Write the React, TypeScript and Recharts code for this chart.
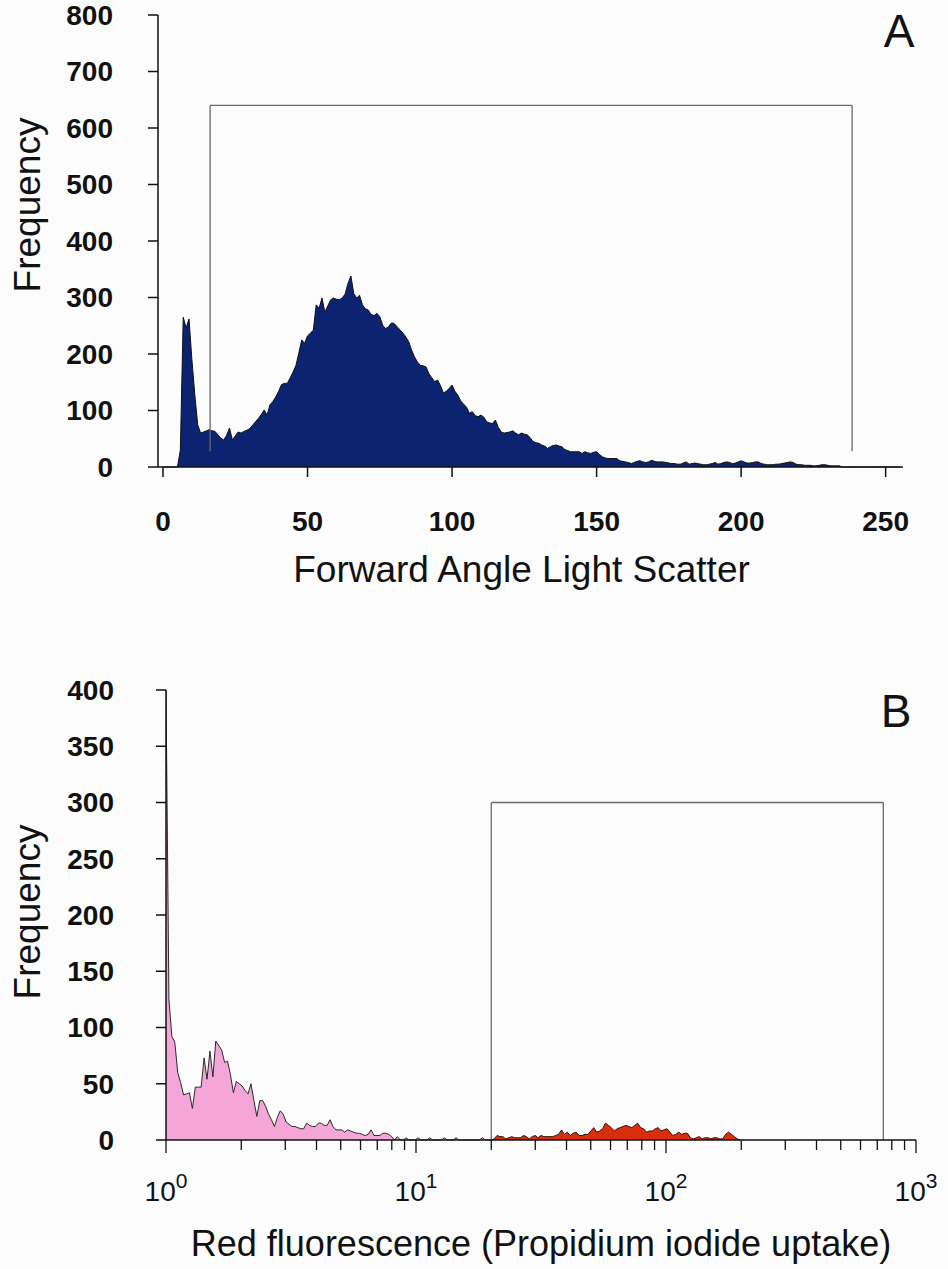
import React from "react";
import { ComposedChart, Area, XAxis, YAxis, ReferenceLine, Label } from "recharts";

const FONT = '"Liberation Sans", Arial, Helvetica, sans-serif';
const INK = "#111";
const GATE = "#6a6a6a";

/* ── Panel A: forward angle light scatter, counts per linear channel 0-255 ── */

const FSC_COUNTS = [
  0, 0, 0, 0, 0, 0, 30, 265, 246, 262, 190, 128, 75, 60, 62, 64,
  66, 64, 63, 57, 51, 48, 56, 69, 48, 55, 62, 60, 63, 65, 68, 74,
  80, 86, 93, 101, 92, 110, 116, 124, 134, 146, 148, 148, 158, 168, 180, 202,
  225, 219, 232, 237, 242, 287, 281, 299, 274, 285, 296, 299, 297, 296, 299, 306,
  325, 338, 307, 299, 304, 287, 280, 278, 270, 268, 272, 266, 251, 245, 248, 255,
  254, 248, 243, 237, 230, 222, 207, 195, 186, 180, 179, 177, 165, 158, 151, 154,
  144, 131, 134, 139, 145, 134, 127, 117, 111, 106, 95, 98, 91, 89, 92, 88,
  80, 78, 77, 83, 70, 62, 60, 61, 62, 64, 60, 57, 60, 58, 57, 52,
  45, 43, 42, 39, 37, 33, 36, 38, 39, 37, 36, 31, 29, 27, 27, 27,
  27, 24, 27, 25, 24, 26, 27, 22, 18, 16, 15, 15, 15, 15, 11, 10,
  9, 8, 6, 8, 10, 11, 9, 8, 9, 12, 10, 9, 9, 9, 8, 7,
  6, 6, 5, 5, 7, 9, 5, 6, 7, 6, 5, 4, 4, 5, 6, 8,
  5, 6, 8, 9, 8, 6, 7, 9, 11, 9, 7, 7, 8, 9, 9, 6,
  5, 4, 4, 4, 5, 5, 6, 7, 8, 9, 8, 5, 4, 4, 3, 3,
  3, 2, 2, 3, 4, 4, 3, 2, 2, 2, 2, 0, 0, 0, 0, 0,
  0, 0, 0, 0, 0, 0, 0, 0, 0, 0, 0, 0, 0, 0, 0, 0,
];
const FSC_TICKS = [0, 50, 100, 150, 200, 250];
const FSC_FREQ_TICKS = [0, 100, 200, 300, 400, 500, 600, 700, 800];
const FSC_GATE = { from: 16.3, to: 238.4, top: 640, foot: 28 };

/* ── Panel B: propidium iodide, 256 log channels over three decades ── */

const PI_CHANNELS_PER_DECADE = 256 / 3;
// channels 0-111, unstained (intact) cells
const PI_NEGATIVE = [
  400, 125, 92, 87, 60, 51, 40, 41, 42, 28, 47, 47, 47, 73, 54, 79,
  56, 88, 84, 80, 69, 70, 58, 42, 52, 50, 48, 44, 41, 50, 35, 21,
  35, 35, 30, 23, 18, 12, 20, 26, 23, 16, 14, 12, 12, 11, 10, 10,
  15, 13, 12, 12, 15, 15, 13, 13, 18, 12, 9, 9, 9, 7, 9, 8,
  7, 6, 6, 5, 4, 5, 9, 4, 4, 4, 6, 6, 5, 3, 0, 3,
  0, 0, 2, 0, 0, 0, 2, 0, 0, 0, 2, 0, 0, 0, 0, 2,
  0, 0, 0, 2, 0, 0, 0, 0, 0, 0, 0, 0, 2, 0, 0, 0,
];
// channels 111-196, PI-positive cells
const PI_POSITIVE_START = 111;
const PI_POSITIVE = [
  0, 1, 4, 3, 3, 1, 2, 3, 2, 2, 2, 4, 3, 1, 3, 4,
  2, 4, 3, 3, 3, 3, 4, 5, 9, 5, 7, 4, 6, 7, 4, 4,
  5, 5, 8, 11, 7, 8, 10, 15, 13, 11, 8, 10, 11, 12, 13, 12,
  11, 13, 15, 11, 10, 7, 8, 8, 10, 11, 8, 9, 10, 7, 4, 5,
  7, 5, 6, 6, 2, 1, 2, 3, 1, 2, 2, 1, 2, 2, 1, 1,
  5, 7, 5, 3, 1, 0,
];
const PI_DECADES = [1, 10, 100, 1000];
const PI_TICKS = [
  1, 2, 3, 4, 5, 6, 7, 8, 9,
  10, 20, 30, 40, 50, 60, 70, 80, 90,
  100, 200, 300, 400, 500, 600, 700, 800, 900,
  1000,
];
const PI_FREQ_TICKS = [0, 50, 100, 150, 200, 250, 300, 350, 400];
const PI_GATE = { from: 20, to: 740, top: 300 };

/* ── Tables ── */

const fscData = FSC_COUNTS.map((count, ch) => ({ ch, count }));

const piData = Array.from({ length: 256 }, (_, ch) => {
  const posIdx = ch - PI_POSITIVE_START;
  return {
    x: 10 ** (ch / PI_CHANNELS_PER_DECADE),
    neg: ch < PI_NEGATIVE.length ? PI_NEGATIVE[ch] : null,
    pos: posIdx >= 0 && posIdx < PI_POSITIVE.length ? PI_POSITIVE[posIdx] : null,
  };
});

/* ── Shared styles ── */

const tickStyle = { fontSize: 28, fontWeight: 700, fill: INK, fontFamily: FONT };
const axisStroke = { stroke: INK, strokeWidth: 1.5 };

function frequencyTitle(cy: number) {
  return () => (
    <text
      x={40}
      y={cy}
      transform={`rotate(-90 40 ${cy})`}
      textAnchor="middle"
      fontSize={37}
      fontFamily={FONT}
      fill={INK}
    >
      Frequency
    </text>
  );
}

// log axis tick: longer mark + 10^n label on decades
function LogTick(props: any) {
  const { x, y, payload } = props;
  const exp = PI_DECADES.indexOf(payload.value);
  return (
    <g>
      <line x1={x} y1={y} x2={x} y2={y + (exp >= 0 ? 13 : 10)} stroke={INK} strokeWidth={1.3} />
      {exp >= 0 && (
        <text x={x} y={y + 61} textAnchor="middle" fontSize={28} fontFamily={FONT} fill={INK}>
          10
          <tspan dy={-13} fontSize={21}>
            {exp}
          </tspan>
        </text>
      )}
    </g>
  );
}

function PanelLetter({ letter, x, y }: { letter: string; x: number; y: number }) {
  return (
    <svg width={60} height={60} style={{ position: "absolute", left: x - 30, top: y - 50 }}>
      <text x={30} y={50} textAnchor="middle" fontSize={46} fontFamily={FONT} fill={INK}>
        {letter}
      </text>
    </svg>
  );
}

/* ── Panel A ── */

function ScatterPanel() {
  const g = FSC_GATE;
  return (
    <ComposedChart width={948} height={620} data={fscData} margin={{ top: 15, right: 45, bottom: 38, left: 98 }}>
      <XAxis
        type="number"
        dataKey="ch"
        domain={[0, 256]}
        ticks={FSC_TICKS}
        interval={0}
        padding={{ left: 5, right: 0 }}
        height={115}
        tickSize={10}
        tickMargin={34}
        tick={tickStyle}
        axisLine={axisStroke}
        tickLine={axisStroke}
      >
        <Label
          value="Forward Angle Light Scatter"
          position="insideBottom"
          offset={0}
          dx={-9}
          fontSize={37}
          fontFamily={FONT}
          fill={INK}
        />
      </XAxis>
      <YAxis
        type="number"
        domain={[0, 800]}
        ticks={FSC_FREQ_TICKS}
        interval={0}
        width={60}
        tickSize={10}
        tickMargin={35}
        tick={tickStyle}
        axisLine={axisStroke}
        tickLine={axisStroke}
      >
        <Label content={frequencyTitle(205)} />
      </YAxis>
      <Area
        type="linear"
        dataKey="count"
        fill="#0b2370"
        fillOpacity={1}
        stroke={INK}
        strokeWidth={1}
        isAnimationActive={false}
      />
      <ReferenceLine segment={[{ x: g.from, y: g.foot }, { x: g.from, y: g.top }]} stroke={GATE} strokeWidth={1.3} />
      <ReferenceLine segment={[{ x: g.from, y: g.top }, { x: g.to, y: g.top }]} stroke={GATE} strokeWidth={1.3} />
      <ReferenceLine segment={[{ x: g.to, y: g.top }, { x: g.to, y: g.foot }]} stroke={GATE} strokeWidth={1.3} />
    </ComposedChart>
  );
}

/* ── Panel B ── */

function FluorescencePanel() {
  const g = PI_GATE;
  return (
    <ComposedChart width={948} height={629} data={piData} margin={{ top: 50, right: 32, bottom: 13, left: 106 }}>
      <XAxis
        type="number"
        dataKey="x"
        scale="log"
        domain={[1, 1000]}
        allowDataOverflow
        ticks={PI_TICKS}
        interval={0}
        height={116}
        tickSize={0}
        tickMargin={0}
        tickLine={false}
        tick={(p: any) => <LogTick {...p} />}
        axisLine={axisStroke}
      >
        <Label
          value="Red fluorescence (Propidium iodide uptake)"
          position="insideBottom"
          offset={0}
          fontSize={36}
          fontFamily={FONT}
          fill={INK}
        />
      </XAxis>
      <YAxis
        type="number"
        domain={[0, 400]}
        ticks={PI_FREQ_TICKS}
        interval={0}
        width={60}
        tickSize={10}
        tickMargin={42}
        tick={tickStyle}
        axisLine={axisStroke}
        tickLine={axisStroke}
      >
        <Label content={frequencyTitle(272)} />
      </YAxis>
      <Area
        type="linear"
        dataKey="neg"
        fill="#f4a6d8"
        fillOpacity={1}
        stroke="#2a2a2a"
        strokeWidth={1}
        isAnimationActive={false}
      />
      <Area
        type="linear"
        dataKey="pos"
        fill="#d92e0c"
        fillOpacity={1}
        stroke="#3a0f05"
        strokeWidth={1}
        isAnimationActive={false}
      />
      <ReferenceLine segment={[{ x: g.from, y: 0 }, { x: g.from, y: g.top }]} stroke={GATE} strokeWidth={1.3} />
      <ReferenceLine segment={[{ x: g.from, y: g.top }, { x: g.to, y: g.top }]} stroke={GATE} strokeWidth={1.3} />
      <ReferenceLine segment={[{ x: g.to, y: g.top }, { x: g.to, y: 0 }]} stroke={GATE} strokeWidth={1.3} />
    </ComposedChart>
  );
}

export default function App() {
  return (
    <div
      style={{
        position: "absolute",
        left: 0,
        top: 0,
        width: 948,
        height: 1269,
        background: "#fcfcfc",
        fontFamily: FONT,
      }}
    >
      <div style={{ position: "absolute", left: 0, top: 0 }}>
        <ScatterPanel />
      </div>
      <div style={{ position: "absolute", left: 0, top: 640 }}>
        <FluorescencePanel />
      </div>
      <PanelLetter letter="A" x={899} y={47} />
      <PanelLetter letter="B" x={896} y={727} />
    </div>
  );
}
